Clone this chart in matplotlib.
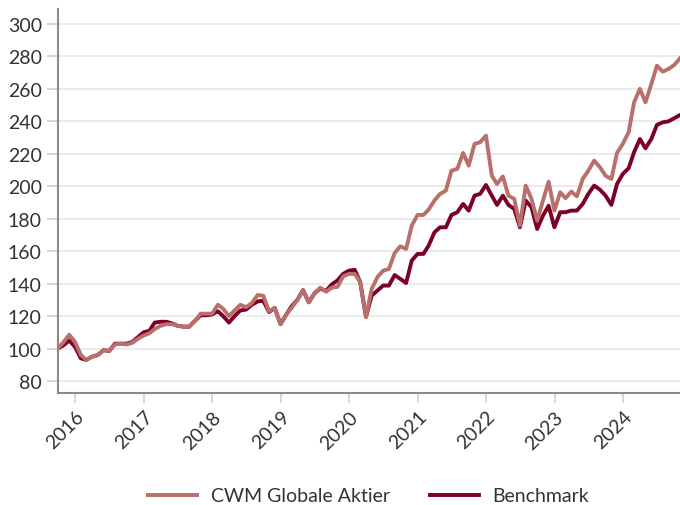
import matplotlib.pyplot as plt
import matplotlib.dates as mdates
import pandas as pd

# month-end index values, Sep 2015 .. Oct 2024
dates = pd.date_range('2015-09-30', '2024-10-31', freq='ME')

cwm = [100, 104, 108.5, 104, 96, 93, 95, 96, 99, 98.5,
       102.5, 103, 102.5, 103.5, 106, 108, 109.5, 112, 114, 115,
       115, 114, 113.5, 113.5, 117, 121.5, 121.5, 121.5, 127, 124.5,
       120, 123.5, 127, 125.5, 128, 133, 132.5, 123, 125, 115,
       121, 125, 130, 136, 128.5, 134, 137.5, 135, 137.5, 138,
       144.5, 146, 146, 141, 119.5, 136.7, 144, 148, 149, 158.9,
       163, 161.4, 175.7, 182.3, 182.3, 185.6, 191.2, 195.3, 197.3, 209.6,
       210.7, 220.5, 212.7, 226.1, 227.1, 231.2, 206.5, 201.4, 206, 194.2,
       192.2, 175.7, 200.4, 192.2, 178.8, 191.2, 202.8, 185, 196.3, 192.6,
       196.7, 193.8, 204.5, 209.6, 215.8, 211.7, 206.5, 204.5, 220.5, 226.1,
       233.3, 251.7, 260, 251.7, 263, 274.3, 270.6, 272.3, 274.7, 278.8]

bench = [100, 102, 105, 101, 94, 93, 95, 96, 99, 98.5,
         103, 103, 103, 104, 107, 110, 111, 116, 116.5, 116.5,
         115.5, 114, 113.5, 113.5, 117, 120.5, 120.5, 121, 123, 120,
         116, 120, 123.5, 124, 127, 129, 129.5, 122.5, 125, 115,
         121, 126, 130, 136, 128.5, 134, 137, 135.5, 139.5, 142,
         146, 148, 148.5, 141, 119.5, 132.6, 135.7, 138.8, 138.8, 145.3,
         142.9, 140.4, 154.2, 158.3, 158.3, 163.4, 171.6, 174.7, 174.7, 182.3,
         184, 189.1, 185, 194.2, 195.3, 200.8, 194.2, 188.5, 194.2, 188.5,
         186, 174.7, 191.2, 187, 173.7, 181.9, 188, 174.7, 184, 184,
         185, 185, 189.1, 195.3, 200.4, 197.9, 194.2, 188.5, 201.4, 207.6,
         211.1, 221, 229.1, 223.4, 229.1, 237.8, 239.4, 240, 241.9, 243.9]

labels = ['CWM Globale Aktier', 'Benchmark']
colors = ['#b8706d', '#7c0028']

plt.rcParams['font.family'] = ['Lato', 'DejaVu Sans']
plt.rcParams['text.color'] = '#333333'

fig = plt.figure(figsize=(6.8, 5.06), dpi=100)
ax = fig.add_axes([0.085, 0.2213, 0.915, 0.7589])

ax.plot(dates, bench, color=colors[1], lw=2.8, label=labels[1], zorder=3)
ax.plot(dates, cwm, color=colors[0], lw=2.8, label=labels[0], zorder=4)

ax.set_ylim(72.6, 309.2)
ax.set_yticks(range(80, 301, 20))
ax.set_xlim(dates[0], dates[-1])
ax.xaxis.set_major_locator(mdates.YearLocator())
ax.xaxis.set_major_formatter(mdates.DateFormatter('%Y'))
ax.grid(axis='y', color='#e8e8e8', lw=1.2)
ax.set_axisbelow(True)

for s in ['top', 'right']:
    ax.spines[s].set_visible(False)
for s in ['left', 'bottom']:
    ax.spines[s].set_color('#8a8a8a')
    ax.spines[s].set_linewidth(1.5)

ax.tick_params(axis='both', color='#cfcfcf', length=7, width=1.2, labelsize=14,
               labelcolor='#333333')
ax.tick_params(axis='y', length=8)
for t in ax.get_xticklabels():
    t.set_rotation(45)
    t.set_ha('right')
    t.set_rotation_mode('anchor')

h, l = ax.get_legend_handles_labels()
ax.legend(h[::-1], l[::-1], loc='center', bbox_to_anchor=(0.5, -0.268), ncol=2,
          frameon=False, fontsize=14, handlelength=2.5, handletextpad=0.7,
          columnspacing=2.1)

fig.savefig('out.png', dpi=100)
